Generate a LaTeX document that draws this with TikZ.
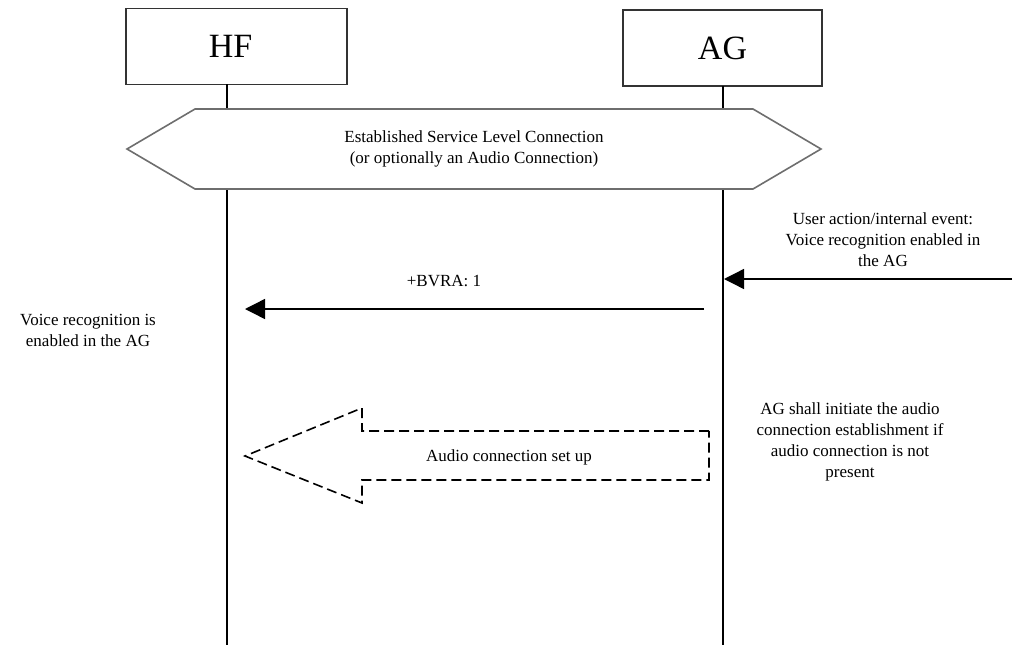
\documentclass[tikz,border=0pt]{standalone}
\usepackage{fontspec}
\setmainfont{Liberation Serif}
\usetikzlibrary{arrows.meta}
\definecolor{boxGray}{HTML}{333333}
\definecolor{hexGray}{HTML}{6E6E6E}

\begin{document}
\begin{tikzpicture}[x=1pt,y=-1pt,
  entity/.style={draw=boxGray,line width=1.5pt,minimum height=76pt,inner sep=0pt,font=\fontsize{34}{34}\selectfont},
  msgtext/.style={align=center,inner sep=0pt,font=\fontsize{17}{21}\selectfont},
  msgarrow/.style={-{Triangle[length=20pt,width=20pt]},line width=1.4pt}]
  \useasboundingbox (0,0) rectangle (1017,645);
  % entities
  \node[entity,minimum width=221pt] (hf) at (236.5,46.5) {\hspace*{-12pt}HF};
  \node[entity,minimum width=199pt] (ag) at (722.5,48) {AG};
  % lifelines
  \coordinate (hfTop) at (227,84);
  \coordinate (hfEnd) at (227,645);
  \coordinate (agTop) at (723,86);
  \coordinate (agEnd) at (723,645);
  \draw[line width=1.4pt] (hfTop) -- (hfEnd);
  \draw[line width=1.4pt] (agTop) -- (agEnd);
  % established connection
  \filldraw[fill=white,draw=hexGray,line width=1.6pt] (127,149) -- (195,109) -- (753,109) -- (821,149) -- (753,189) -- (195,189) -- cycle;
  \node[msgtext] (slc) at (474,149) {Established Service Level Connection\\(or optionally an Audio Connection)};
  % user action
  \node[msgtext] (user) at (883,240) {User action/internal event:\\Voice recognition enabled in\\the AG};
  \coordinate (userStart) at (1012,279);
  \coordinate (agUser) at (724,279);
  \draw[msgarrow] (userStart) -- (agUser);
  % +BVRA
  \coordinate (bvraStart) at (704,309);
  \coordinate (bvraEnd) at (245,309);
  \draw[msgarrow] (bvraStart) -- (bvraEnd);
  \node[msgtext] (bvra) at (444,281) {+BVRA: 1};
  \node[msgtext] (hfnote) at (88,330) {Voice recognition is\\enabled in the AG};
  % audio connection
  \draw[dash pattern=on 10pt off 5pt,line width=1.6pt] (709,431) -- (362,431) -- (362,408) -- (245,456) -- (362,503) -- (362,480) -- (709,480) -- cycle;
  \node[msgtext] (audio) at (509,457) {Audio connection set up};
  \node[msgtext] (agnote) at (850,442) {AG shall initiate the audio\\connection establishment if\\audio connection is not\\present};
\end{tikzpicture}
\end{document}
